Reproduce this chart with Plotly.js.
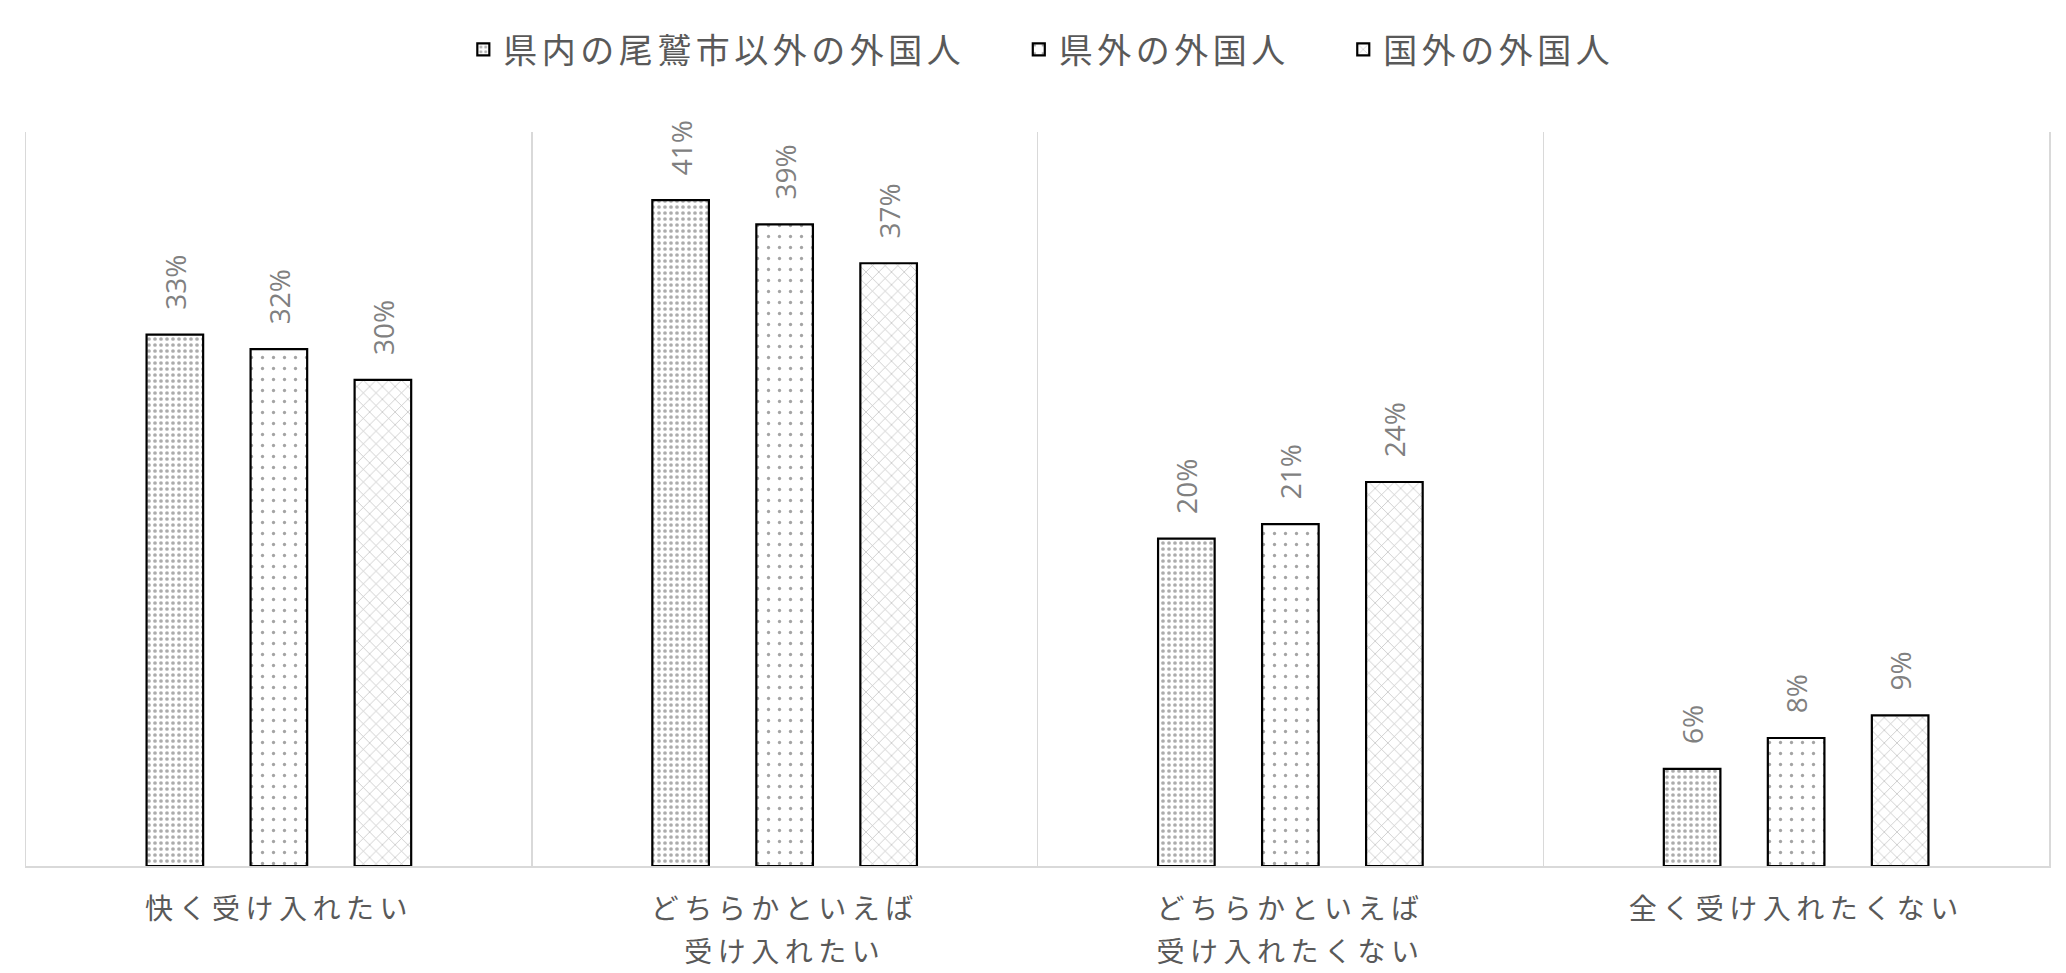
<!DOCTYPE html>
<html>
<head>
<meta charset="utf-8">
<script src="https://cdn.plot.ly/plotly-3.0.1.min.js"></script>
<style>
html,body{margin:0;padding:0;background:#fff;}
#chart{width:2066px;height:973px;}
.legendtext{letter-spacing:4.5px;}
.xtick text, .x2tick text{letter-spacing:5.5px;}
</style>
</head>
<body>
<div id="chart"></div>
<script>
const categories = ["快く受け入れたい", "どちらかといえば受け入れたい", "どちらかといえば受け入れたくない", "全く受け入れたくない"];
const tickLine1 = ["快く受け入れたい", "どちらかといえば", "どちらかといえば", "全く受け入れたくない"];
const tickLine2 = ["", "受け入れたい", "受け入れたくない", ""];
const seriesNames = ["県内の尾鷲市以外の外国人", "県外の外国人", "国外の外国人"];
const valuesPref = [32.8, 41.1, 20.2, 6.0];
const valuesOutPref = [31.9, 39.6, 21.1, 7.9];
const valuesAbroad = [30.0, 37.2, 23.7, 9.3];
const labelsPref = ["33%", "41%", "20%", "6%"];
const labelsOutPref = ["32%", "39%", "21%", "8%"];
const labelsAbroad = ["30%", "37%", "24%", "9%"];

const font = "'Noto Sans CJK JP', 'Noto Sans', sans-serif";
const pad = "\u00a0\u00a0\u00a0";
const namePad = "\u00a0\u00a0\u00a0\u00a0";
function mk(name, y, labels, pattern) {
  return {
    type: "bar", name: name + namePad, x: categories, y: y,
    text: labels.map(t => pad + t), textposition: "outside", textangle: -90,
    constraintext: "none", cliponaxis: false,
    textfont: {family: "'Open Sans', 'Noto Sans', sans-serif", size: 28, color: "#808080"},
    marker: {color: "#ffffff", line: {color: "#000000", width: 2.2}, pattern: pattern},
    hoverinfo: "none"
  };
}
const data = [
  mk(seriesNames[0], valuesPref, labelsPref, {shape: ".", size: 6, solidity: 0.3, fgcolor: "#5a5a5a", bgcolor: "#ffffff", fillmode: "overlay"}),
  mk(seriesNames[1], valuesOutPref, labelsOutPref, {shape: ".", size: 11, solidity: 0.07, fgcolor: "#4a4a4a", bgcolor: "#ffffff", fillmode: "overlay"}),
  mk(seriesNames[2], valuesAbroad, labelsAbroad, {shape: "x", size: 9, solidity: 0.15, fgcolor: "#7a7a7a", bgcolor: "#ffffff", fillmode: "overlay"}),
  {type: "scatter", mode: "none", x: categories, y: valuesPref, xaxis: "x2", yaxis: "y",
   showlegend: false, hoverinfo: "skip"}
];
const tickFont = {family: font, size: 28, color: "#595959"};
const layout = {
  width: 2066, height: 973,
  margin: {l: 26, r: 17, t: 132, b: 107},
  paper_bgcolor: "#ffffff", plot_bgcolor: "#ffffff",
  barmode: "group", bargap: 0.383, bargroupgap: 0.456,
  showlegend: true,
  legend: {orientation: "h", x: 0.514, xanchor: "center", y: 1.112, yanchor: "middle",
           font: {family: font, size: 34, color: "#595959"}, itemwidth: 30, traceorder: "normal"},
  xaxis: {type: "category", categoryorder: "array", categoryarray: categories, range: [-0.5, 3.5],
          tickson: "boundaries", showgrid: true, gridcolor: "#d9d9d9", gridwidth: 1.5,
          showline: true, linecolor: "#d9d9d9", linewidth: 2, ticks: "", ticklabelstandoff: 17,
          tickmode: "array", tickvals: categories, ticktext: tickLine1,
          tickfont: tickFont, automargin: false},
  xaxis2: {type: "category", overlaying: "x", anchor: "y", side: "bottom",
           categoryorder: "array", categoryarray: categories, range: [-0.5, 3.5],
           showgrid: false, showline: false, zeroline: false, ticks: "", ticklabelstandoff: 67,
           tickmode: "array", tickvals: categories, ticktext: tickLine2,
           tickfont: tickFont, automargin: false},
  yaxis: {range: [0, 45.3], showgrid: false, showticklabels: false, zeroline: false,
          showline: true, mirror: true, linecolor: "#d9d9d9", linewidth: 1.5, ticks: ""},
  font: {family: font}
};
Plotly.newPlot("chart", data, layout, {staticPlot: true, displayModeBar: false});
</script>
</body>
</html>
